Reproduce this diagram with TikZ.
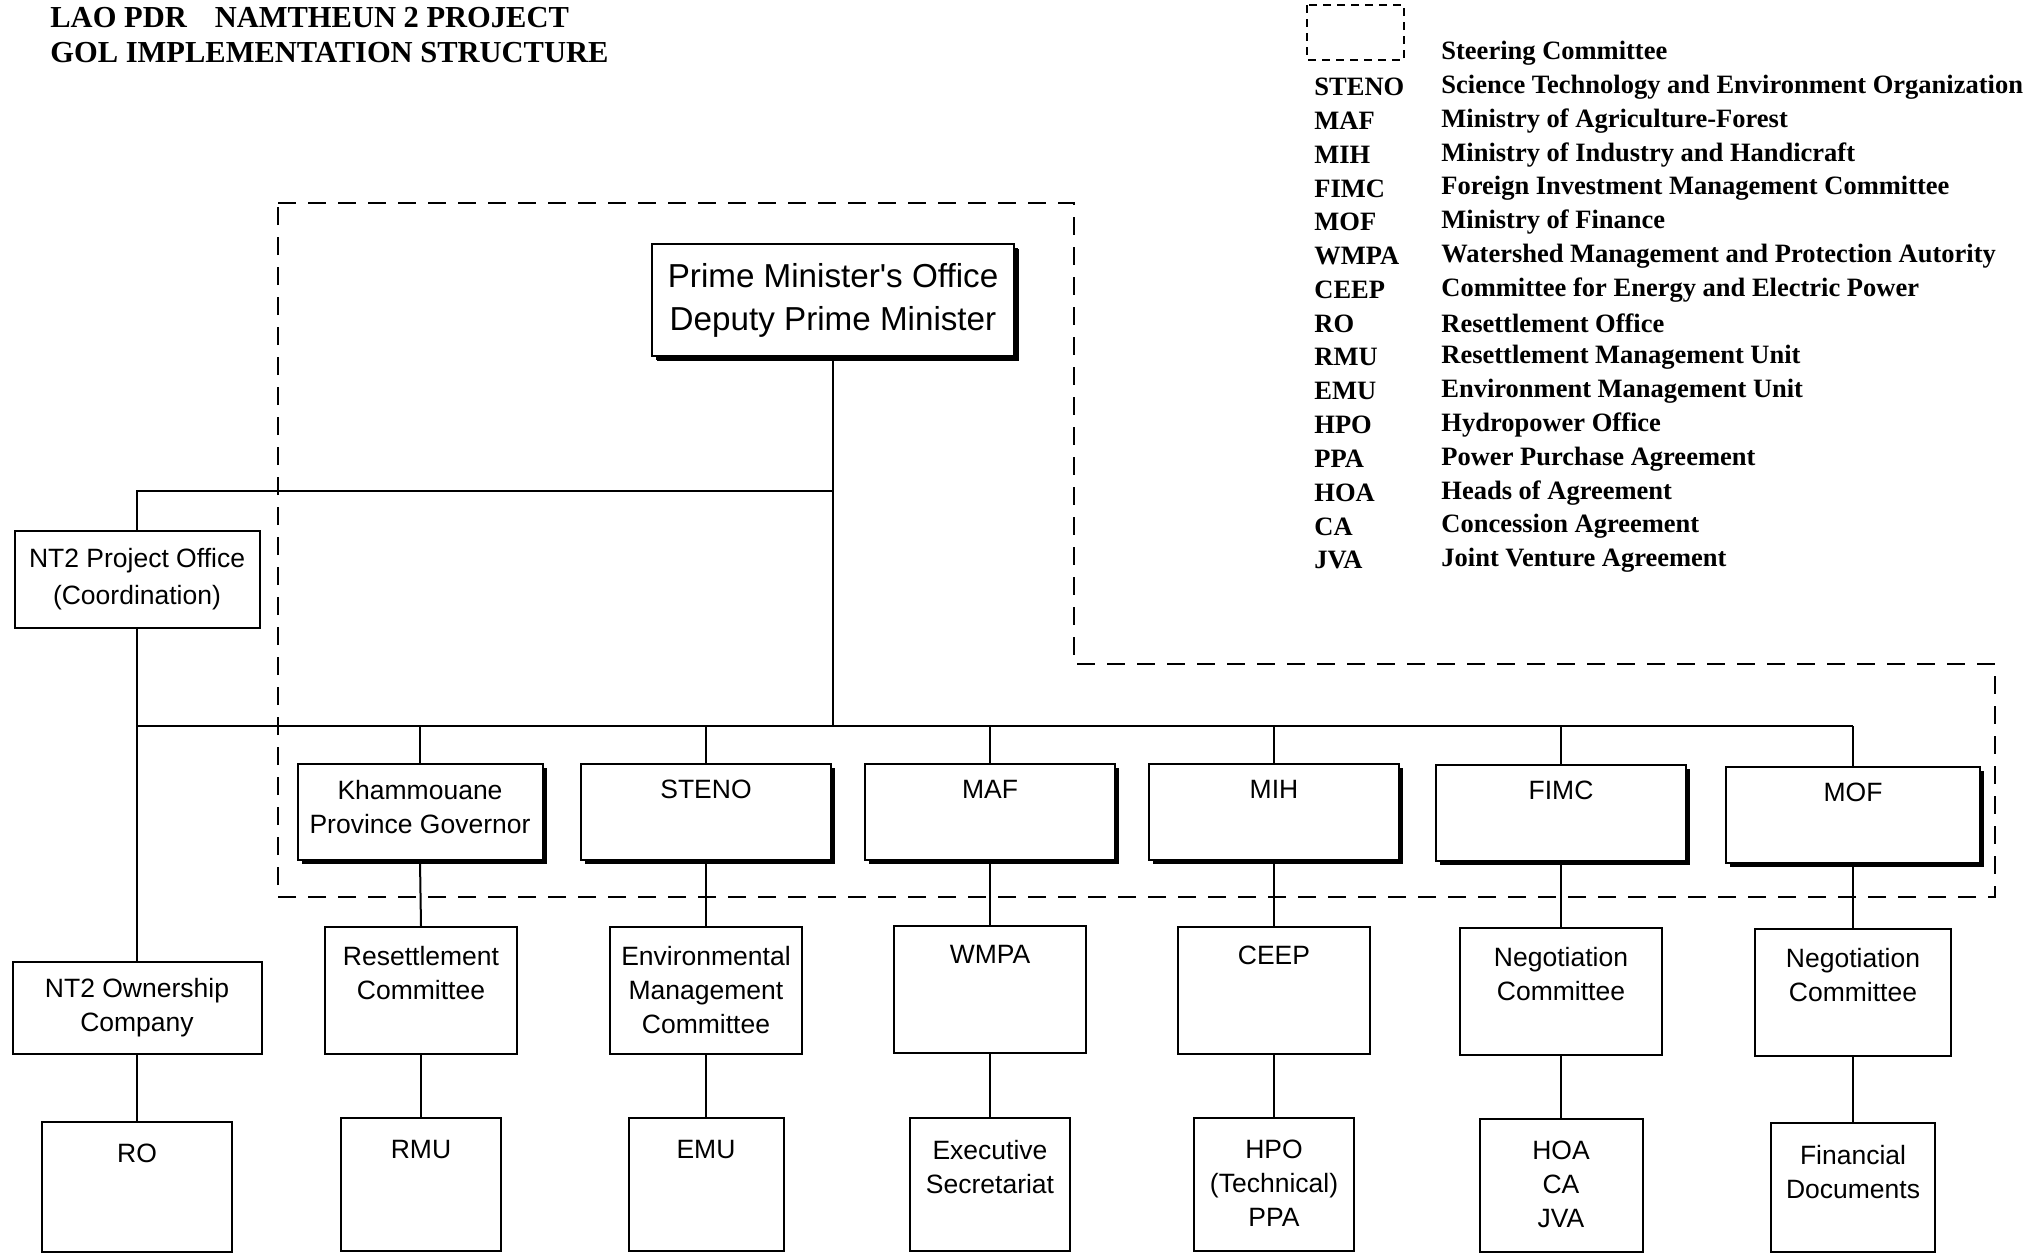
\documentclass[tikz,border=0pt]{standalone}
\usepackage{fontspec}
\setmainfont{Liberation Serif}
\newfontfamily\orgfont{Liberation Sans}
\usetikzlibrary{shadows}

\begin{document}
\begin{tikzpicture}[
    x=0.5pt, y=-0.5pt,
    link/.style={draw, line width=1pt},
    steering/.style={draw, line width=1pt, dash pattern=on 9pt off 6pt},
    orgbox/.style={draw, line width=1pt, fill=white, anchor=north, inner sep=0pt},
    shadowed/.style={drop shadow={shadow xshift=2pt, shadow yshift=-2pt, fill=black, opacity=1}},
    ministerbox/.style={orgbox, shadowed, minimum width=125pt, minimum height=48pt},
    committeebox/.style={orgbox, minimum width=96pt, minimum height=63.5pt},
    unitbox/.style={orgbox, minimum width=80pt, minimum height=66.5pt},
    boxtext/.style={anchor=north, align=center, yshift=-5pt, font=\orgfont\fontsize{13.25pt}{17pt}\selectfont},
    comtext/.style={boxtext, yshift=-1.5pt},
    unittext/.style={boxtext, yshift=-3pt},
    heading/.style={anchor=west, inner sep=0pt, font=\bfseries\fontsize{15.25pt}{18pt}\selectfont},
    legabbr/.style={anchor=west, inner sep=0pt, font=\bfseries\fontsize{13.25pt}{16pt}\selectfont},
    legdesc/.style={legabbr}
]
\useasboundingbox (0,0) rectangle (2044,1255);

% title and legend
\node[heading] (title1) at (50,18) {LAO PDR\hspace{14pt}NAMTHEUN 2 PROJECT};
\node[heading] (title2) at (50,53) {GOL IMPLEMENTATION STRUCTURE};
\draw[steering, dash pattern=on 4pt off 3pt] (1307,5) rectangle (1404,60);
\node[legdesc] (steerdesc) at (1441,53) {Steering Committee};
\foreach [count=\i] \abbr/\desc in {STENO/Science Technology and Environment Organization,
    MAF/Ministry of Agriculture-Forest, MIH/Ministry of Industry and Handicraft,
    FIMC/Foreign Investment Management Committee, MOF/Ministry of Finance,
    WMPA/Watershed Management and Protection Autority, CEEP/Committee for Energy and Electric Power,
    RO/Resettlement Office, RMU/Resettlement Management Unit, EMU/Environment Management Unit,
    HPO/Hydropower Office, PPA/Power Purchase Agreement, HOA/Heads of Agreement,
    CA/Concession Agreement, JVA/Joint Venture Agreement} {
  \node[legabbr] (abbr\i) at (1314, {87+33.8*(\i-1)}) {\abbr};
  \node[legdesc] (desc\i) at (1441, {87+33.8*(\i-1)}) {\desc};
}

% steering committee
\draw[steering] (278,203) -- (1074,203) -- (1074,664) -- (1995,664) -- (1995,897) -- (278,897) -- cycle;

\node[orgbox, anchor=center, shadowed, drop shadow={shadow xshift=2.5pt, shadow yshift=-2.5pt, fill=black, opacity=1},
      minimum width=181pt, minimum height=56pt, align=center,
      font=\orgfont\fontsize{16.6pt}{21.5pt}\selectfont] (pm) at (833,300) {Prime Minister's Office\\Deputy Prime Minister};
\node[orgbox, anchor=center, minimum width=122.5pt, minimum height=48.5pt, align=center,
      font=\orgfont\fontsize{13.25pt}{18.5pt}\selectfont] (po) at (137,579) {NT2 Project Office\\(Coordination)};

\node[ministerbox, minimum width=122.5pt, label={[boxtext]north:{Khammouane\\Province Governor}}] (kpg) at (420,763) {};
\node[ministerbox, label={[boxtext]north:STENO}] (steno) at (706,763) {};
\node[ministerbox, label={[boxtext]north:MAF}] (maf) at (990,763) {};
\node[ministerbox, label={[boxtext]north:MIH}] (mih) at (1274,763) {};
\node[ministerbox, label={[boxtext]north:FIMC}] (fimc) at (1561,764) {};
\node[ministerbox, minimum width=127pt, label={[boxtext]north:MOF}] (mof) at (1853,766) {};

\node[orgbox, minimum width=124.5pt, minimum height=46pt, label={[boxtext]north:{NT2 Ownership\\Company}}] (noc) at (137,961) {};
\node[committeebox, label={[comtext]north:{Resettlement\\Committee}}] (rc) at (421,926) {};
\node[committeebox, label={[comtext]north:{Environmental\\Management\\Committee}}] (emc) at (706,926) {};
\node[committeebox, label={[comtext]north:WMPA}] (wmpa) at (990,925) {};
\node[committeebox, label={[comtext]north:CEEP}] (ceep) at (1274,926) {};
\node[committeebox, minimum width=101pt, label={[comtext]north:{Negotiation\\Committee}}] (nc1) at (1561,927) {};
\node[committeebox, minimum width=98pt, label={[comtext]north:{Negotiation\\Committee}}] (nc2) at (1853,928) {};

\node[unitbox, minimum width=95pt, minimum height=65pt, label={[unittext]north:RO}] (ro) at (137,1121) {};
\node[unitbox, label={[unittext]north:RMU}] (rmu) at (421,1117) {};
\node[unitbox, minimum width=77.5pt, label={[unittext]north:EMU}] (emu) at (706,1117) {};
\node[unitbox, label={[unittext]north:{Executive\\Secretariat}}] (es) at (990,1117) {};
\node[unitbox, label={[unittext]north:{HPO\\(Technical)\\PPA}}] (hpo) at (1274,1117) {};
\node[unitbox, minimum width=81.5pt, label={[unittext]north:{HOA\\CA\\JVA}}] (hoa) at (1561,1118) {};
\node[unitbox, minimum width=82pt, minimum height=64.5pt, label={[unittext]north:{Financial\\Documents}}] (fd) at (1853,1122) {};

% connectors
\coordinate (fork) at (833,491);
\coordinate (busL) at (137,726);
\draw[link] (pm.south) -- (pm.south |- busL);
\draw[link] (fork) -| (po.north);
\draw[link] (po.south) -- (noc.north);
\draw[link] (noc.south) -- (ro.north);
\draw[link] (busL) -- (busL -| mof.north);
\foreach \hi/\mi/\lo in {kpg/rc/rmu, steno/emc/emu, maf/wmpa/es, mih/ceep/hpo, fimc/nc1/hoa, mof/nc2/fd} {
  \draw[link] (\hi.north |- busL) -- (\hi.north);
  \draw[link] (\hi.south) -- (\mi.north);
  \draw[link] (\mi.south) -- (\lo.north);
}
\end{tikzpicture}
\end{document}
